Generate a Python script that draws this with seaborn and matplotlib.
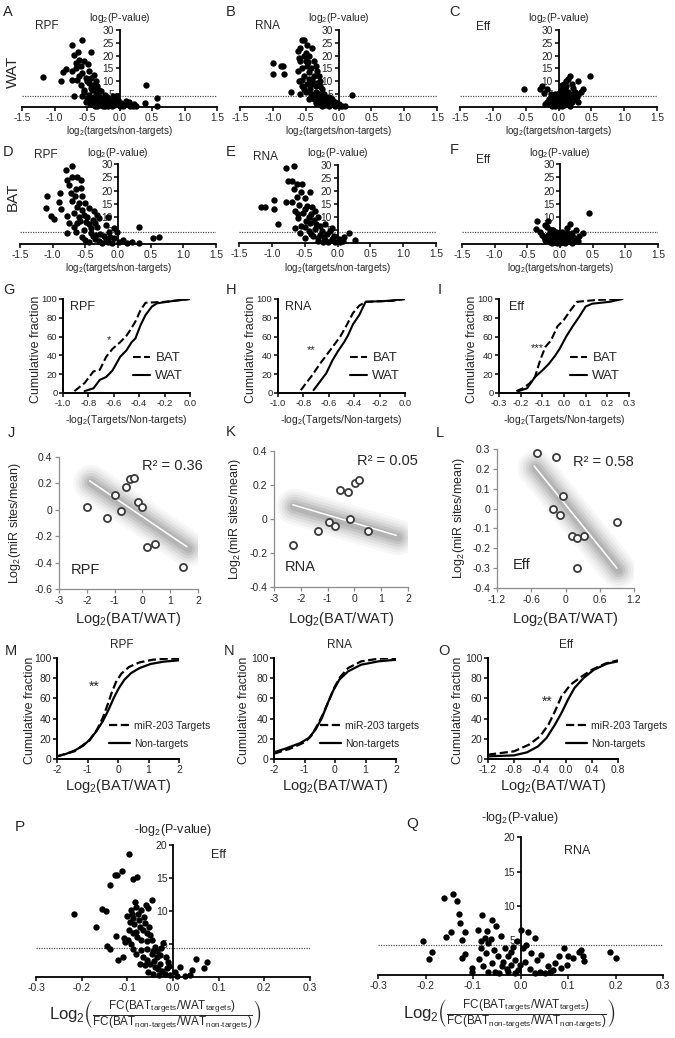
import numpy as np
import pandas as pd
import matplotlib
matplotlib.use('Agg')
import matplotlib.pyplot as plt
import matplotlib.transforms as mtrans
from matplotlib.lines import Line2D
import seaborn as sns

sns.set_style('ticks')
plt.rcParams['font.family'] = ['Liberation Sans', 'DejaVu Sans']
plt.rcParams['mathtext.fontset'] = 'custom'
plt.rcParams['mathtext.rm'] = 'Liberation Sans'
plt.rcParams['mathtext.it'] = 'Liberation Sans:italic'
plt.rcParams['mathtext.bf'] = 'Liberation Sans:bold'
plt.rcParams['mathtext.fallback'] = 'stix'

# ---------------- data ----------------
P_CUT = 4.32  # -log2(0.05)

A_pts = [(-1.18,11.7),(-0.90,10.0),(-0.87,13.5),(-0.83,14.7),(-0.73,24.3),(-0.57,26.2),(-0.44,21.4),(-0.64,21.4),
         (-0.70,20.1),(-0.62,18.5),(-0.67,17.2),(-0.54,17.9),(-0.67,15.0),(-0.60,15.9),(-0.49,16.6),(-0.73,14.0),
         (-0.57,13.3),(-0.47,14.0),(-0.73,10.6),(-0.65,10.6),(-0.52,11.3),(-0.44,11.3),(-0.39,12.6),(-0.60,8.7),
         (-0.47,9.4),(-0.36,10.0),(-0.54,6.8),(-0.44,7.4),(-0.34,8.1),(-0.70,4.2),(-0.57,4.2),(-0.47,4.8),
         (-0.36,5.5),(-0.28,6.1),(-0.23,4.8),(-0.44,2.9),(-0.34,2.9),(-0.26,3.5),(-0.18,2.9),(-0.10,4.2),
         (-0.05,4.2),(-0.39,1.6),(-0.28,1.6),(-0.21,1.3),(-0.13,2.2),(-0.03,2.9),(-0.34,0.5),(-0.23,0.5),
         (-0.08,0.9),(0.03,1.6),(0.10,2.2),(0.16,0.5),(0.23,1.3),(0.26,0.5),(0.39,1.6),(0.40,8.7),
         (0.57,3.5),(0.57,0.5),(-0.18,0.5),(0.00,0.5),(-0.50,3.5),(-0.42,6.5),(-0.31,3.8),(-0.25,2.2),
         (-0.15,1.0),(-0.30,0.8),(-0.12,0.3),(0.05,0.3),(0.12,1.0),(0.20,0.3),(-0.55,5.8),(-0.38,7.0),
         (-0.62,12.0),(-0.50,10.2),(-0.41,8.5),(-0.31,6.8),(-0.40,4.0),(-0.33,5.0),(-0.20,3.8),(-0.16,2.0),
         (-0.08,2.5),(-0.01,1.2),(0.07,0.8),(-0.26,0.3),(-0.37,0.3),(-0.45,1.0),(-0.52,2.0),(0.15,1.8)]

B_pts = [(-1.00,17),(-1.00,13),(-0.88,16),(-0.85,16),(-0.83,13),(-0.72,6),(-0.62,22),(-0.58,23),(-0.55,26),
         (-0.52,26),(-0.60,19),(-0.58,18),(-0.50,21),(-0.45,20),(-0.40,23),(-0.38,18),(-0.62,14),(-0.55,15),
         (-0.48,16),(-0.42,15),(-0.35,16),(-0.33,14),(-0.60,10),(-0.52,12),(-0.45,11),(-0.38,12),(-0.30,12),
         (-0.28,10),(-0.56,8),(-0.48,9),(-0.40,9),(-0.35,8),(-0.25,7),(-0.58,5),(-0.50,6),(-0.42,5),(-0.35,6),
         (-0.30,5),(-0.22,5),(-0.45,3),(-0.38,3),(-0.32,4),(-0.25,3),(-0.20,4),(-0.15,4),(-0.10,3),(-0.35,1.5),
         (-0.28,1),(-0.22,1.5),(-0.18,2),(-0.10,1.5),(-0.05,2),(-0.25,0.5),(-0.15,0.5),(-0.05,0.5),(0.00,1),
         (0.05,0.5),(0.10,0.5),(0.20,4.5),(-0.12,2.5),(-0.08,1),(0.02,0.3),(-0.53,20),(-0.48,24),(-0.50,18),
         (-0.45,13.5),(-0.40,10.5),(-0.33,9.5),(-0.28,8),(-0.44,7),(-0.37,4.5),(-0.27,4.2),(-0.18,3),
         (-0.13,1.2),(-0.20,0.6),(-0.30,2.5),(-0.52,7.2),(-0.55,10.5),(-0.46,17.5),(-0.03,0.8)]

C_pts = [(-0.53,7),(-0.28,7),(-0.25,8),(-0.18,7),(-0.22,5.5),(-0.10,3),(-0.08,4),(-0.05,2),(-0.12,2),(-0.15,1),
         (-0.20,1),(-0.05,0.5),(0.00,0.5),(0.03,1),(0.05,2),(0.08,3),(0.10,4),(0.12,5),(0.15,6),(0.05,8.5),
         (0.08,9),(0.12,10),(0.15,11),(0.18,12),(0.20,9),(0.30,10),(0.48,12),(0.25,6),(0.30,5),(0.35,6),
         (0.38,7),(0.20,4),(0.25,3),(0.30,2),(0.15,1),(0.10,2),(0.20,2),(0.07,6),(0.02,4),(-0.02,3),(0.00,2),
         (-0.10,0.3),(0.05,0.2),(-0.15,3),(-0.05,5),(0.10,7),(0.22,7.5),(0.15,3),(0.28,4),(-0.18,2),
         (-0.02,1.5),(0.08,0.8),(0.18,0.5),(-0.08,0.8),(0.12,8),(0.04,6.5),(-0.12,5),(0.18,5),
         (-0.03,3.8),(0.03,2.8),(0.07,4.6),(0.13,3.6),(0.22,5.2),(0.27,4.8),(-0.07,2.6),(0.01,5.4)]

D_pts = [(-1.08,18),(-1.10,13.4),(-1.02,10.5),(-0.98,9.3),(-0.90,15.9),(-0.89,19.3),(-0.87,13),(-0.80,27.7),
         (-0.71,29.4),(-0.78,24),(-0.75,22),(-0.70,25),(-0.62,25),(-0.57,24),(-0.65,20.6),(-0.72,19),
         (-0.57,21),(-0.66,18),(-0.55,18),(-0.70,16),(-0.60,15.3),(-0.50,15.3),(-0.78,10.5),(-0.67,11.5),
         (-0.55,12.8),(-0.44,13.4),(-0.37,12.2),(-0.60,10),(-0.48,10),(-0.32,11),(-0.75,7.8),(-0.62,7.8),
         (-0.49,8.4),(-0.39,9),(-0.29,9.7),(-0.16,10),(-0.78,4.3),(-0.65,4.6),(-0.52,5.3),(-0.42,5.9),
         (-0.32,6.5),(-0.19,7.2),(-0.06,5.9),(-0.55,2.8),(-0.39,3),(-0.27,3.8),(-0.14,4.6),(-0.01,4.6),
         (-0.44,0.9),(-0.29,1.3),(-0.19,1.8),(-0.06,2.1),(0.07,1.5),(0.14,0.5),(0.22,0.9),(0.32,6.3),
         (0.32,0.5),(0.54,2.1),(0.63,2.5),(-0.09,0.5),(-0.24,0.5),
         (-0.63,14),(-0.52,11),(-0.45,7.5),(-0.35,8),(-0.42,4.2),(-0.33,3.5),(-0.22,3),(-0.12,2.6),
         (-0.35,1.8),(-0.50,1.5),(-0.15,0.8),(0.02,0.8),(-0.68,6.2),(-0.58,8.8)]

E_pts = [(-1.17,13.8),(-1.11,13.8),(-0.96,13),(-0.96,16.6),(-0.90,7.5),(-0.78,28.9),(-0.67,29.8),(-0.75,24),
         (-0.70,23.8),(-0.62,22.8),(-0.54,22.8),(-0.67,20.6),(-0.55,19.7),(-0.42,19.7),(-0.78,15.6),
         (-0.70,15.9),(-0.62,17.8),(-0.49,17.2),(-0.59,14.7),(-0.47,14.3),(-0.39,13.8),(-0.65,12.2),
         (-0.52,11.5),(-0.34,12.2),(-0.60,9.7),(-0.44,10),(-0.29,10),(-0.65,5.9),(-0.55,6.5),(-0.42,7.8),
         (-0.32,7.5),(-0.19,7.2),(-0.09,5.9),(-0.57,4),(-0.44,4.6),(-0.34,5.3),(-0.24,4.6),(-0.49,2.1),
         (-0.37,2.8),(-0.27,3),(-0.16,3.4),(-0.06,2.8),(-0.29,0.9),(-0.19,1.3),(-0.09,1.5),(0.02,1.5),
         (0.09,0.9),(0.17,3.8),(0.27,1.3),(0.04,0.3),(-0.14,0.3),(-0.04,0.5),
         (-0.50,13),(-0.40,11),(-0.36,9),(-0.48,8.6),(-0.26,6.5),(-0.40,3.5),(-0.30,2),(-0.20,2.2),
         (-0.12,4.5),(-0.22,0.5),(-0.60,11.2),(-0.50,6),(0.10,2.2)]

F_pts = [(-0.35,8.8),(-0.37,5.5),(-0.23,7.2),(-0.18,8.8),(-0.20,6.3),(-0.30,4.6),(-0.15,4),(-0.10,5.3),
         (-0.20,2.8),(-0.13,2.1),(-0.05,3.4),(0.03,4.6),(0.10,5.9),(0.15,7.5),(0.08,3.4),(0.18,4),(0.25,5.3),
         (0.35,4.3),(0.20,2.8),(0.29,3),(0.45,11.5),(-0.15,0.9),(-0.05,0.5),(0.05,0.9),(0.13,2.1),(0.00,2.1),
         (-0.08,1.5),(-0.23,1.5),(0.08,0.3),(-0.10,3),(-0.02,1),(0.02,3),(-0.18,3.5),(0.12,1),(0.22,1.5),
         (-0.12,0.3),(0.18,0.3),(0.00,0.2),(-0.06,4.5),(0.06,2),(-0.25,2.5),(0.25,2),
         (-0.03,2.2),(0.04,1.6),(0.10,4.0),(-0.16,5.2),(0.16,3.0),(-0.08,0.6),(0.28,1.0),(-0.28,3.4)]

P_pts = [(-0.217,9.6),(-0.169,7.6),(-0.156,10.3),(-0.147,10.0),(-0.145,4.7),(-0.138,4.3),(-0.139,13.9),
         (-0.127,15.5),(-0.122,15.5),(-0.111,16.1),(-0.096,18.7),(-0.088,14.9),(-0.078,15.2),(-0.125,6.2),
         (-0.120,2.6),(-0.109,3.1),(-0.107,5.9),(-0.105,5.3),(-0.097,7.1),(-0.094,8.4),(-0.090,9.6),
         (-0.087,8.9),(-0.083,11.4),(-0.080,10.6),(-0.076,9.6),(-0.072,7.6),(-0.078,6.1),(-0.069,5.6),
         (-0.064,9.1),(-0.060,10.9),(-0.054,10.4),(-0.045,11.7),(-0.052,7.6),(-0.047,5.6),(-0.088,4.3),
         (-0.080,3.5),(-0.069,4.1),(-0.058,4.3),(-0.047,3.5),(-0.036,3.0),(-0.021,5.2),(-0.072,2.0),
         (-0.061,1.8),(-0.050,2.0),(-0.039,1.5),(-0.028,2.0),(-0.054,0.8),(-0.043,0.5),(-0.030,0.3),
         (-0.018,0.5),(-0.007,0.3),(0.004,0.8),(0.015,1.5),(0.026,0.1),(0.037,0.3),(0.041,1.0),(0.050,2.8),
         (0.068,1.3),(0.074,2.3),(-0.014,1.3),(0.008,0.1),(-0.087,6.6),(-0.098,5.6),(-0.065,7.1),
         (-0.058,6.6),(-0.039,4.6),(-0.066,3.0),(-0.056,2.6),(-0.033,1.2),(-0.023,0.9),(-0.011,2.3),
         (-0.092,10.2),(-0.085,8.0),(-0.074,8.6),(-0.070,10.2),(-0.062,8.2),(-0.057,5.4),(-0.050,6.4),
         (-0.044,4.0),(-0.041,2.5),(-0.035,3.9),(-0.029,3.3),(-0.026,4.4),(-0.015,3.0),(-0.008,1.7),
         (-0.091,5.0),(-0.100,9.3),(-0.082,6.8)]

Q_pts = [(-0.205,5.0),(-0.186,3.4),(-0.192,2.3),(-0.161,11.2),(-0.143,11.8),(-0.133,10.7),(-0.156,5.5),
         (-0.147,6.3),(-0.129,8.8),(-0.128,7.5),(-0.116,6.2),(-0.124,5.1),(-0.124,2.5),(-0.117,3.1),
         (-0.103,1.0),(-0.102,0.5),(-0.082,8.7),(-0.089,6.5),(-0.084,5.0),(-0.075,5.3),(-0.068,4.6),
         (-0.062,5.2),(-0.060,8.0),(-0.051,7.1),(-0.042,5.7),(-0.084,3.9),(-0.088,2.3),(-0.072,3.2),
         (-0.061,1.7),(-0.048,2.7),(-0.033,3.9),(-0.026,2.7),(-0.079,1.3),(-0.068,0.5),(-0.054,0.5),
         (-0.040,1.3),(-0.029,0.8),(-0.019,1.5),(-0.012,2.2),(-0.001,1.5),(0.002,6.5),(0.015,6.2),
         (0.030,5.4),(-0.008,4.9),(0.006,3.9),(0.023,3.2),(0.034,2.2),(0.044,2.9),(0.020,0.8),(0.030,0.3),
         (0.041,0.5),(0.051,0.3),(0.058,1.3),(0.069,0.7),(0.072,1.7),(0.081,2.7),(0.092,3.9),(0.097,1.5),
         (0.100,2.7),(0.111,2.5),(0.124,3.4),(0.132,2.7),(0.134,2.0),(0.127,3.6),(0.189,3.3),(0.200,2.5),
         (-0.026,0.5),(-0.012,0.3),(-0.056,3.6),(-0.036,1.9),(-0.020,3.4),(-0.005,0.7),(0.010,1.9),
         (0.012,4.4),(-0.045,0.3),(0.062,0.4),(0.086,1.0),(-0.070,6.4),(-0.015,4.0)]

# cumulative distributions (x at cumulative %)
G_bat_x = [-0.91,-0.83,-0.76,-0.71,-0.66,-0.61,-0.55,-0.50,-0.47,-0.43,-0.39,-0.35,-0.20,0.00]
G_bat_y = [2,10.6,23,24.7,38.5,47,54,61,67,76,88,96,97,100]
G_wat_x = [-0.83,-0.76,-0.71,-0.66,-0.61,-0.55,-0.50,-0.46,-0.43,-0.39,-0.35,-0.30,-0.26,-0.13,0.00]
G_wat_y = [2,5,14,17,24,38.5,45.4,54,58,72,83,92,95.4,98,100]
H_bat_x = [-0.82,-0.79,-0.73,-0.67,-0.62,-0.57,-0.51,-0.46,-0.41,-0.36,-0.31,-0.10,0.00]
H_bat_y = [3,8.5,19,31,40,49,60,72,85,93,97,98,100]
H_wat_x = [-0.72,-0.67,-0.62,-0.57,-0.53,-0.48,-0.45,-0.41,-0.36,-0.31,-0.14,0.00]
H_wat_y = [3,12,21,35,44,54,61,73,83,97,98,100]
I_bat_x = [-0.22,-0.19,-0.16,-0.134,-0.11,-0.086,-0.06,-0.03,0.00,0.03,0.06,0.15,0.27]
I_bat_y = [2,5,10,17,35,49,56,71,78,88,97,99,100]
I_wat_x = [-0.21,-0.17,-0.134,-0.10,-0.07,-0.04,-0.02,0.01,0.04,0.07,0.10,0.13,0.21,0.27]
I_wat_y = [2,5,17,24,31,40,47,60,71,81,92,95,97,100]

M_non_x = [-2.0,-1.71,-1.43,-1.14,-0.93,-0.71,-0.50,-0.31,-0.14,0.03,0.21,0.43,0.71,1.07,1.50,2.0]
M_non_y = [2.6,5,8.3,13.2,19.1,27.4,37.3,48.8,60.4,70.3,78.5,85.1,90.1,94.1,96.4,97.7]
M_tgt_x = [-2.0,-1.43,-0.93,-0.69,-0.50,-0.34,-0.21,-0.07,0.11,0.36,0.71,1.14,1.57,2.0]
M_tgt_y = [2.6,7.6,18.5,29,40.6,53.8,65.3,75.9,84.5,91.1,95.7,98.3,99.3,99.3]
N_non_x = [-2.0,-1.57,-1.14,-0.86,-0.64,-0.43,-0.26,-0.07,0.14,0.43,0.86,1.43,2.0]
N_non_y = [6.6,10.9,15.8,20.8,29,40.6,53.8,67,78.5,86.8,93.4,96.7,98.3]
N_tgt_x = [-2.0,-1.5,-1.0,-0.79,-0.60,-0.40,-0.21,-0.03,0.17,0.43,0.86,1.43,2.0]
N_tgt_y = [5.3,9.9,16.5,22.4,32.3,43.9,57.1,70.3,81.2,90.1,96.7,99.3,100]
O_non_x = [-1.2,-0.8,-0.6,-0.43,-0.30,-0.17,-0.07,0.03,0.13,0.27,0.43,0.63,0.8]
O_non_y = [2.6,3.6,6.6,12.5,20.8,34,45.5,58.7,70.3,80.2,88.4,94.4,96.7]
O_tgt_x = [-1.2,-0.8,-0.57,-0.40,-0.27,-0.17,-0.07,0.07,0.23,0.40,0.60,0.8]
O_tgt_y = [4.3,7.6,14.2,22.4,34,47.2,62,73.6,81.2,88.4,94.4,97.7]

# miR site correlations
J_x = [-1.98,-1.28,-0.97,-0.77,-0.58,-0.45,-0.30,-0.17,-0.02,0.17,0.44,1.45]
J_y = [0.02,-0.06,0.11,-0.01,0.17,0.23,0.24,0.06,0.02,-0.28,-0.26,-0.43]
J_trend_x = [-1.9,1.6]
J_trend_y = [0.22,-0.28]
K_x = [-2.30,-1.34,-0.93,-0.74,-0.54,-0.25,-0.16,0.03,0.18,0.49]
K_y = [-0.15,-0.07,-0.02,-0.04,0.17,0.16,0.00,0.21,0.23,-0.07]
K_trend_x = [-2.3,1.56]
K_trend_y = [0.084,-0.096]
L_x = [-0.50,-0.17,-0.22,-0.04,-0.10,0.12,0.32,0.21,0.91,0.20]
L_y = [0.28,0.26,0.00,0.065,-0.03,-0.14,-0.14,-0.30,-0.07,-0.15]
L_trend_x = [-0.55,0.90]
L_trend_y = [0.215,-0.30]
R2 = ['R² = 0.36', 'R² = 0.05', 'R² = 0.58']

# ---------------- figure ----------------
W, H = 675, 1038
fig = plt.figure(figsize=(W / 100, H / 100), dpi=100)


def add_ax(l, r, t, b):
    return fig.add_axes([l / W, 1 - b / H, (r - l) / W, (b - t) / H])


def ftext(x, y, s, **kw):
    kw.setdefault('ha', 'center')
    kw.setdefault('va', 'center')
    fig.text(x / W, 1 - y / H, s, **kw)


def volcano(box, pts, xlim, xticks, yticks, ymax, tick_fs=7.3):
    ax = add_ax(*box)
    df = pd.DataFrame(pts, columns=['x', 'y'])
    sns.scatterplot(data=df, x='x', y='y', ax=ax, color='black', s=21, linewidth=0,
                    clip_on=False, zorder=3, legend=False)
    ax.set_xlim(*xlim)
    ax.set_ylim(0, ymax)
    ax.axhline(P_CUT, color='#555555', lw=0.9, ls=(0, (1, 1)), zorder=1)
    ax.spines['left'].set_position(('data', 0))
    ax.spines['right'].set_visible(False)
    ax.spines['top'].set_visible(False)
    for s in ['left', 'bottom']:
        ax.spines[s].set_linewidth(1.3)
        ax.spines[s].set_color('black')
        ax.spines[s].set_zorder(2)
    ax.set_xticks(xticks)
    ax.set_xticklabels(['{:.1f}'.format(v) for v in xticks], fontsize=tick_fs)
    ax.set_yticks(yticks)
    ax.set_yticklabels([str(v) for v in yticks], fontsize=tick_fs)
    ax.tick_params(length=3, width=1.1, pad=1, color='black')
    ax.set_xlabel('')
    ax.set_ylabel('')
    ax.patch.set_alpha(0)
    return ax


def cum_ax(box, curves, xlim, xticks, fmt, tick_fs=7, lw=1.5):
    ax = add_ax(*box)
    handles = []
    for xs, ys, ls in curves:
        df = pd.DataFrame({'x': xs, 'y': ys})
        sns.lineplot(data=df, x='x', y='y', ax=ax, color='black', lw=lw, linestyle=ls,
                     sort=False, estimator=None, legend=False)
        handles.append(Line2D([], [], color='black', lw=lw, linestyle=ls))
    ax.set_xlim(*xlim)
    ax.set_ylim(0, 100)
    ax.set_xticks(xticks)
    ax.set_xticklabels([fmt.format(v) for v in xticks], fontsize=tick_fs)
    ax.set_yticks([0, 20, 40, 60, 80, 100])
    ax.set_yticklabels(['0', '20', '40', '60', '80', '100'], fontsize=tick_fs)
    ax.spines['right'].set_visible(False)
    ax.spines['top'].set_visible(False)
    for s in ['left', 'bottom']:
        ax.spines[s].set_linewidth(1.4)
        ax.spines[s].set_color('black')
    ax.tick_params(length=3, width=1.1, pad=1, color='black')
    ax.set_xlabel('')
    ax.set_ylabel('')
    ax.patch.set_alpha(0)
    return ax, handles


def put_legend(ax, handles, labels, x, y, fs, hl, spacing):
    ax.legend(handles, labels, loc='upper left', bbox_to_anchor=(x / W, 1 - y / H),
              bbox_transform=fig.transFigure, frameon=False, borderpad=0, borderaxespad=0,
              handlelength=hl, handletextpad=0.4, labelspacing=spacing, fontsize=fs)


def corr_ax(box, xs, ys, tx, ty, xlim, ylim, xticks, yticks):
    ax = add_ax(*box)
    off = mtrans.offset_copy(ax.transData, fig=fig, x=1.5, y=-2.0, units='dots')
    for lw, a in [(26, 0.04), (22, 0.05), (18, 0.07), (14, 0.09), (10, 0.11), (6, 0.13)]:
        ax.plot(tx, ty, color='#4a4a4a', lw=lw, alpha=a, solid_capstyle='round', transform=off, zorder=1)
    ax.plot(tx, ty, color='white', lw=1.1, zorder=2)
    df = pd.DataFrame({'x': xs, 'y': ys})
    sns.scatterplot(data=df, x='x', y='y', ax=ax, marker='o', s=26, facecolor='white',
                    edgecolor='#3a3a3a', linewidth=1.3, zorder=3, legend=False, clip_on=False)
    ax.set_xlim(*xlim)
    ax.set_ylim(*ylim)
    ax.set_xticks(xticks)
    ax.set_xticklabels(['{:g}'.format(v) for v in xticks], fontsize=7.5)
    ax.set_yticks(yticks)
    ax.set_yticklabels(['{:g}'.format(round(v, 2)) for v in yticks], fontsize=7.5)
    ax.spines['right'].set_visible(False)
    ax.spines['top'].set_visible(False)
    for s in ['left', 'bottom']:
        ax.spines[s].set_linewidth(0.9)
        ax.spines[s].set_color('#8c8c8c')
    ax.tick_params(length=3, width=0.9, pad=2, color='#8c8c8c')
    ax.set_xlabel('')
    ax.set_ylabel('')
    ax.patch.set_alpha(0)
    return ax


vx = [-1.5, -1.0, -0.5, 0.0, 0.5, 1.0, 1.5]
vy = [5, 10, 15, 20, 25, 30]

# ----- row 1 / row 2: volcano plots -----
boxes_top = [(22, 217, 30, 107), (240, 437, 30, 107), (460, 657, 30, 107)]
boxes_mid = [(20, 216, 164, 244), (239, 436, 165, 243), (462, 658, 164, 244)]
for box, pts in zip(boxes_top, [A_pts, B_pts, C_pts]):
    volcano(box, pts, (-1.5, 1.5), vx, vy, 30)
for box, pts in zip(boxes_mid, [D_pts, E_pts, F_pts]):
    volcano(box, pts, (-1.5, 1.5), vx, vy, 30)

for (l, r, t, b), lab in zip(boxes_top, ['RPF', 'RNA', 'Eff']):
    c = l + (r - l) / 2
    ftext(c, 18, r'log$_2$(P-value)', fontsize=7.5)
    ftext(c, 131, r'log$_2$(targets/non-targets)', fontsize=7)
for (l, r, t, b) in boxes_mid:
    c = l + (r - l) / 2
    ftext(c, 153, r'log$_2$(P-value)', fontsize=7.5)
    ftext(c, 268, r'log$_2$(targets/non-targets)', fontsize=7)

ftext(47, 26, 'RPF', fontsize=8.5)
ftext(267, 26, 'RNA', fontsize=8.5)
ftext(483, 27, 'Eff', fontsize=8.5)
ftext(46, 155, 'RPF', fontsize=8.5)
ftext(266, 157, 'RNA', fontsize=8.5)
ftext(483, 160, 'Eff', fontsize=8.5)
ftext(13, 72, 'WAT', fontsize=11, rotation=90)
ftext(13, 197, 'BAT', fontsize=11, rotation=90)
for x, y, s in [(8, 12, 'A'), (231, 12, 'B'), (454, 12, 'C'),
                (8, 152, 'D'), (231, 152, 'E'), (454, 150, 'F')]:
    ftext(x, y, s, fontsize=10.5)

# ----- row 3: cumulative BAT vs WAT -----
g_boxes = [(63, 190, 299, 393), (278, 405, 299, 393), (499, 629, 299, 393)]
g_curves = [[(G_bat_x, G_bat_y, '--'), (G_wat_x, G_wat_y, '-')],
            [(H_bat_x, H_bat_y, '--'), (H_wat_x, H_wat_y, '-')],
            [(I_bat_x, I_bat_y, '--'), (I_wat_x, I_wat_y, '-')]]
g_lims = [(-1.0, 0.0), (-1.0, 0.0), (-0.3, 0.3)]
g_ticks = [[-1.0, -0.8, -0.6, -0.4, -0.2, 0.0], [-1.0, -0.8, -0.6, -0.4, -0.2, 0.0],
           [-0.3, -0.2, -0.1, 0.0, 0.1, 0.2, 0.3]]
g_leg = [133, 350, 570]
g_titles = [(70, 'RPF'), (285, 'RNA'), (509, 'Eff')]
g_stars = [(109, 340, '*'), (311, 350, '**'), (537, 348, '***')]
g_ylab = [36, 251, 472]
for i in range(3):
    ax, hs = cum_ax(g_boxes[i], g_curves[i], g_lims[i], g_ticks[i], '{:.1f}', tick_fs=6.8)
    put_legend(ax, hs, ['BAT', 'WAT'], g_leg[i], 352, 9.5, 1.3, 0.45)
    l, r, t, b = g_boxes[i]
    ftext((l + r) / 2, 420, r'-log$_2$(Targets/Non-targets)', fontsize=7.5)
    ftext(g_titles[i][0], 307, g_titles[i][1], fontsize=9, ha='left')
    ftext(g_stars[i][0], g_stars[i][1], g_stars[i][2], fontsize=8)
    ftext(g_ylab[i], 349, 'Cumulative fraction', fontsize=9, rotation=90)
for x, s in [(9, 'G'), (231, 'H'), (440, 'I')]:
    ftext(x, 290, s, fontsize=10.5)

# ----- row 4: correlations -----
c_boxes = [(59, 198, 457, 589), (274, 408, 451, 587), (497, 634, 449, 588)]
c_data = [(J_x, J_y, J_trend_x, J_trend_y), (K_x, K_y, K_trend_x, K_trend_y),
          (L_x, L_y, L_trend_x, L_trend_y)]
c_xlim = [(-3, 2), (-3, 2), (-1.2, 1.2)]
c_ylim = [(-0.6, 0.4), (-0.4, 0.4), (-0.4, 0.3)]
c_xt = [[-3, -2, -1, 0, 1, 2], [-3, -2, -1, 0, 1, 2], [-1.2, -0.6, 0, 0.6, 1.2]]
c_yt = [[-0.6, -0.4, -0.2, 0, 0.2, 0.4], [-0.4, -0.2, 0, 0.2, 0.4],
        [-0.4, -0.3, -0.2, -0.1, 0, 0.1, 0.2, 0.3]]
c_r2 = [(172, 466), (387, 461), (603, 462)]
c_lab = [(85, 570, 'RPF'), (300, 567, 'RNA'), (522, 565, 'Eff')]
c_ylab = [15, 235, 459]
for i in range(3):
    xs, ys, tx, ty = c_data[i]
    corr_ax(c_boxes[i], xs, ys, tx, ty, c_xlim[i], c_ylim[i], c_xt[i], c_yt[i])
    l, r, t, b = c_boxes[i]
    ftext(c_r2[i][0], c_r2[i][1], R2[i], fontsize=10.5)
    ftext(c_lab[i][0], c_lab[i][1], c_lab[i][2], fontsize=10.5)
    ftext((l + r) / 2, 619, r'Log$_2$(BAT/WAT)', fontsize=10.5)
    ftext(c_ylab[i], (t + b) / 2, r'Log$_2$(miR sites/mean)', fontsize=9, rotation=90)
for x, y, s in [(11, 433, 'J'), (231, 432, 'K'), (440, 433, 'L')]:
    ftext(x, y, s, fontsize=10.5)

# ----- row 5: cumulative targets vs non-targets -----
m_boxes = [(57, 179, 658, 759), (274, 396, 658, 759), (488, 618, 658, 759)]
m_curves = [[(M_tgt_x, M_tgt_y, '--'), (M_non_x, M_non_y, '-')],
            [(N_tgt_x, N_tgt_y, '--'), (N_non_x, N_non_y, '-')],
            [(O_tgt_x, O_tgt_y, '--'), (O_non_x, O_non_y, '-')]]
m_lims = [(-2, 2), (-2, 2), (-1.2, 0.8)]
m_ticks = [[-2, -1, 0, 1, 2], [-2, -1, 0, 1, 2], [-1.2, -0.8, -0.4, 0.0, 0.4, 0.8]]
m_fmt = ['{:.0f}', '{:.0f}', '{:.1f}']
m_leg_labels = [['miR-203 Targets', 'Non-targets'], ['miR-203 targets', 'Non-targets'],
                ['miR-203 Targets', 'Non-targets']]
m_leg = [109, 320, 566]
m_titles = [(122, 'RPF'), (340, 'RNA'), (566, 'Eff')]
m_ylab = [30, 244, 458]
for i in range(3):
    ax, hs = cum_ax(m_boxes[i], m_curves[i], m_lims[i], m_ticks[i], m_fmt[i], tick_fs=7.5, lw=1.6)
    put_legend(ax, hs, m_leg_labels[i], m_leg[i], 721, 7.5, 2.0, 0.75)
    l, r, t, b = m_boxes[i]
    ftext((l + r) / 2, 786, r'Log$_2$(BAT/WAT)', fontsize=10.5)
    ftext(m_titles[i][0], 645, m_titles[i][1], fontsize=8.5)
    ftext(m_ylab[i], 710, 'Cumulative fraction', fontsize=9, rotation=90)
ftext(94, 687, '**', fontsize=10)
ftext(547, 702, '**', fontsize=10)
for x, s in [(11, 'M'), (229, 'N'), (444, 'O')]:
    ftext(x, 651, s, fontsize=10.5)

# ----- row 6: BAT vs WAT volcano -----
px = [-0.3, -0.2, -0.1, 0.0, 0.1, 0.2, 0.3]
py = [5, 10, 15, 20]
volcano((36, 310, 845, 977), P_pts, (-0.3, 0.3), px, py, 20, tick_fs=7.5)
volcano((378, 663, 837, 975), Q_pts, (-0.3, 0.3), px, py, 20, tick_fs=7.5)
ftext(173, 830, r'-log$_2$(P-value)', fontsize=9)
ftext(520, 818, r'-log$_2$(P-value)', fontsize=9)
ftext(218, 855, 'Eff', fontsize=9)
ftext(577, 851, 'RNA', fontsize=9)
ftext(20, 827, 'P', fontsize=11)
ftext(412, 824, 'Q', fontsize=11)
hy = '\u2010'
frac = (r'$\mathrm{Log}_2\left(\frac{\mathrm{FC(BAT_{targets}/WAT_{targets})}}'
        r'{\mathrm{FC(BAT_{non' + hy + r'targets}/WAT_{non' + hy + r'targets})}}\right)$')
ftext(156, 1016, frac, fontsize=12)
ftext(510, 1015, frac, fontsize=12)

fig.savefig('out.png', dpi=100)
